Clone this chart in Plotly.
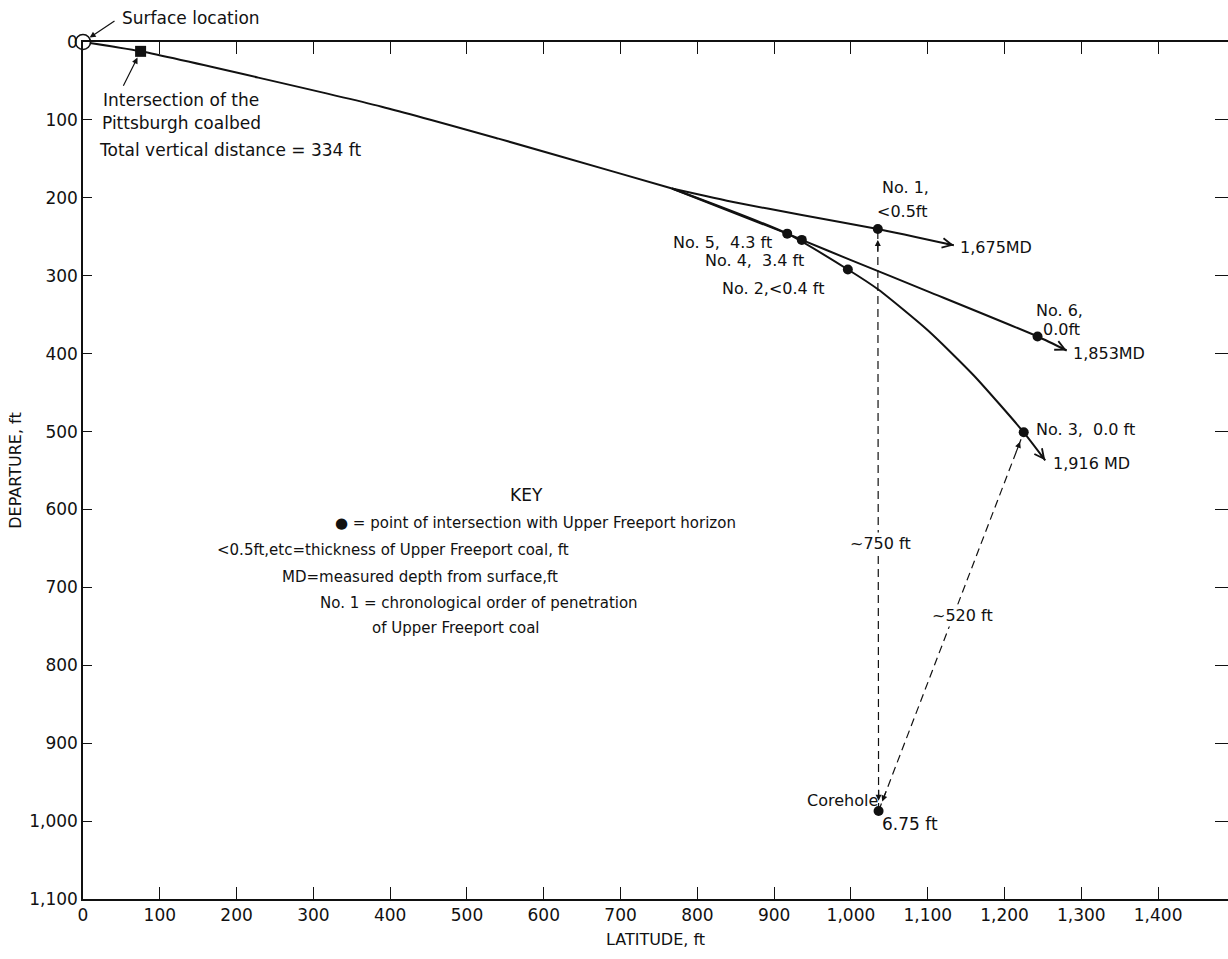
import plotly.graph_objects as go

# ---- well path geometry (latitude, departure in ft) ----
trunk_x = [0, 75, 389, 541, 693, 767]
trunk_y = [0, 12, 83, 124, 167, 188]

upper_x = [767, 850, 936, 1035, 1134]
upper_y = [188, 206, 222, 240, 261]

middle_x = [767, 917, 936, 1000, 1100, 1243, 1281]
middle_y = [188, 246, 254, 280, 320, 378, 396]

lower_x = [767, 917, 996, 1036, 1100, 1160, 1225, 1253]
lower_y = [188, 246, 292, 318, 370, 428, 501, 537]

# Upper Freeport intersections, in chronological order No. 1 - No. 6
int_names = ["No. 1", "No. 2", "No. 3", "No. 4", "No. 5", "No. 6"]
int_x = [1035, 996, 1225, 936, 917, 1243]
int_y = [240, 292, 501, 254, 246, 378]
int_thick = ["<0.5ft", "<0.4 ft", "0.0 ft", "3.4 ft", "4.3 ft", "0.0ft"]

# measured depths at the branch ends
md_labels = ["1,675MD", "1,853MD", "1,916 MD"]

pitt_x, pitt_y = 75, 12
core_x, core_y = 1036, 987
core_thick = "6.75 ft"

x_ticks = [0, 100, 200, 300, 400, 500, 600, 700, 800, 900, 1000, 1100, 1200, 1300, 1400]
x_tick_text = ["0", "100", "200", "300", "400", "500", "600", "700", "800", "900",
               "1,000", "1,100", "1,200", "1,300", "1,400"]
y_ticks = [0, 100, 200, 300, 400, 500, 600, 700, 800, 900, 1000, 1100]
y_tick_text = ["0", "100", "200", "300", "400", "500", "600", "700", "800", "900",
               "1,000", "1,100"]

FONT = "DejaVu Sans"
BLACK = "#111111"

fig = go.Figure()

path_line = dict(color=BLACK, width=2, shape="spline", smoothing=0.6)
for xs, ys in [(trunk_x, trunk_y), (upper_x, upper_y), (middle_x, middle_y), (lower_x, lower_y)]:
    fig.add_trace(go.Scatter(x=xs, y=ys, mode="lines", line=path_line,
                             hoverinfo="skip", showlegend=False, cliponaxis=False))

# dashed distances from the corehole
dash_line = dict(color=BLACK, width=1.2, dash="8px,5px")
fig.add_trace(go.Scatter(x=[core_x, int_x[0]], y=[core_y, int_y[0]], mode="lines",
                         line=dash_line, hoverinfo="skip", showlegend=False))
fig.add_trace(go.Scatter(x=[core_x, int_x[2]], y=[core_y, int_y[2]], mode="lines",
                         line=dash_line, hoverinfo="skip", showlegend=False))

# intersection points
fig.add_trace(go.Scatter(x=int_x + [core_x], y=int_y + [core_y], mode="markers",
                         marker=dict(color=BLACK, size=10), hoverinfo="skip",
                         showlegend=False))

# surface location and Pittsburgh coalbed
fig.add_trace(go.Scatter(x=[0], y=[0], mode="markers",
                         marker=dict(color="white", size=15, line=dict(color=BLACK, width=1.6)),
                         hoverinfo="skip", showlegend=False, cliponaxis=False))
fig.add_trace(go.Scatter(x=[pitt_x], y=[pitt_y], mode="markers",
                         marker=dict(color=BLACK, size=11, symbol="square"),
                         hoverinfo="skip", showlegend=False, cliponaxis=False))

ann = []


def text(x, y, s, xanchor="left", size=16, yanchor="middle", bg=None, yref="y"):
    d = dict(x=x, y=y, xref="x", yref=yref, text=s, showarrow=False,
             xanchor=xanchor, yanchor=yanchor,
             font=dict(family=FONT, size=size, color=BLACK))
    if bg:
        d.update(bgcolor=bg, borderpad=1)
    ann.append(d)


def arrow(x, y, ax, ay, head=2, size=1.0, width=1.3, data_ref=True, standoff=0):
    d = dict(x=x, y=y, xref="x", yref="y", text="", showarrow=True,
             arrowhead=head, arrowsize=size, arrowwidth=width, arrowcolor=BLACK,
             ax=ax, ay=ay, standoff=standoff)
    if data_ref:
        d.update(axref="x", ayref="y")
    ann.append(d)


# branch end arrows
for xs, ys in [(upper_x, upper_y), (middle_x, middle_y), (lower_x, lower_y)]:
    ex, ey = xs[-1], ys[-1]
    px, py = xs[-2], ys[-2]
    t = 12.0 / ((ex - px) ** 2 + (ey - py) ** 2) ** 0.5
    arrow(ex, ey, ex - (ex - px) * t, ey - (ey - py) * t, head=5, size=1.25, width=1.5)

# dashed line arrowheads
arrow(int_x[0], int_y[0] + 14, int_x[0], int_y[0] + 30, head=2, size=1.0, width=1.2)
arrow(core_x, core_y - 13, core_x, core_y - 29, head=2, size=1.0, width=1.2)
dx, dy = int_x[2] - core_x, int_y[2] - core_y
L = (dx * dx + dy * dy) ** 0.5
ux, uy = dx / L, dy / L
arrow(int_x[2] - ux * 13, int_y[2] - uy * 13, int_x[2] - ux * 29, int_y[2] - uy * 29,
      head=2, size=1.0, width=1.2)
arrow(core_x + ux * 13, core_y + uy * 13, core_x + ux * 29, core_y + uy * 29,
      head=2, size=1.0, width=1.2)

# leader lines
arrow(0, 0, 33, -22, head=2, size=1.0, width=1.2, data_ref=False, standoff=8)
arrow(pitt_x, pitt_y, -18, 36, head=2, size=1.0, width=1.2, data_ref=False, standoff=7)

text(48, 1.028, "Surface location", size=17, yref="paper")
text(23, 75, "Intersection of the", size=17)
text(22, 104, "Pittsburgh coalbed", size=17)
text(18, 139, "Total vertical distance = 334 ft", size=17)

# intersection labels
text(1071, 187, "No. 1,", xanchor="center")
text(1066, 218, int_thick[0], xanchor="center")
text(upper_x[-1] + 5, 264, md_labels[0])
text(900, 257, "No. 5,  " + int_thick[4], xanchor="right")
text(942, 281, "No. 4,  " + int_thick[3], xanchor="right")
text(968, 316, "No. 2," + int_thick[1], xanchor="right")
text(1239, 345, "No. 6,")
text(1247, 369, int_thick[5])
text(middle_x[-1] + 6, 400, md_labels[1])
text(1238, 498, "No. 3,  " + int_thick[2])
text(lower_x[-1] + 8, 541, md_labels[2])
text(1038, 973, "Corehole", xanchor="right", size=16)
text(1038, 1004, core_thick, size=17)
text(1039, 644, "~750 ft", xanchor="center", bg="white")
text(1145, 736, "~520 ft", xanchor="center", bg="white")

# key
text(578, 581, "KEY", xanchor="center", size=17)
text(326, 617, "\u25cf = point of intersection with Upper Freeport horizon", size=15)
text(172, 652, "<0.5ft,etc=thickness of Upper Freeport coal, ft", size=15)
text(257, 687, "MD=measured depth from surface,ft", size=15)
text(306, 720, "No. 1 = chronological order of penetration", size=15)
text(374, 752, "of Upper Freeport coal", size=15)

fig.update_layout(
    width=1228, height=959,
    margin=dict(l=83, r=0, t=42, b=60),
    paper_bgcolor="white", plot_bgcolor="white",
    font=dict(family=FONT, size=15, color=BLACK),
    showlegend=False,
    annotations=ann,
    xaxis=dict(range=[0, 1491], tickvals=x_ticks, ticktext=x_tick_text,
               ticks="inside", ticklen=12, tickwidth=1.3, tickcolor=BLACK,
               showline=True, linecolor=BLACK, linewidth=1.5, mirror="ticks",
               showgrid=False, zeroline=False,
               tickfont=dict(family=FONT, size=17, color=BLACK),
               title=dict(text="LATITUDE, ft", standoff=10,
                          font=dict(family=FONT, size=16, color=BLACK))),
    yaxis=dict(range=[1100, 0], tickvals=y_ticks, ticktext=y_tick_text,
               ticks="inside", ticklen=9, tickwidth=1.3, tickcolor=BLACK,
               showline=True, linecolor=BLACK, linewidth=1.5, mirror=False,
               showgrid=False, zeroline=False,
               tickfont=dict(family=FONT, size=17, color=BLACK),
               title=dict(text="DEPARTURE, ft", standoff=4,
                          font=dict(family=FONT, size=16, color=BLACK))),
    yaxis2=dict(range=[1100, 0], tickvals=y_ticks, overlaying="y", side="right",
                anchor="x", ticks="inside", ticklen=13, tickwidth=1.3, tickcolor=BLACK,
                showticklabels=False, showline=False, showgrid=False, zeroline=False),
)

# invisible trace so the right-hand tick axis is drawn
fig.add_trace(go.Scatter(x=[0], y=[0], yaxis="y2", mode="markers",
                         marker=dict(opacity=0), hoverinfo="skip", showlegend=False))

fig.write_html("out.html")
